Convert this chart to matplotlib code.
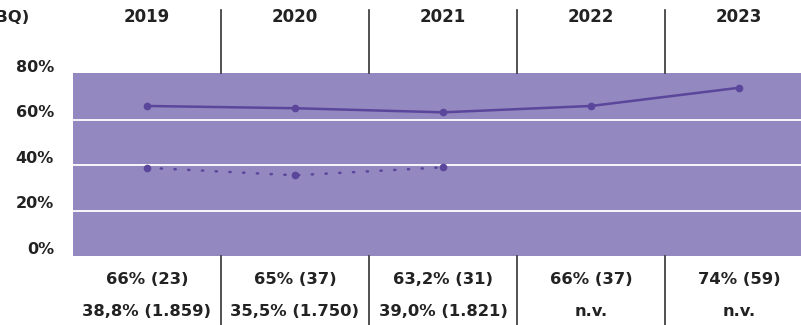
import matplotlib.pyplot as plt
import numpy as np

plt.rcParams['font.family'] = ['DejaVu Sans']

years = ['2019', '2020', '2021', '2022', '2023']
solid_vals = [66, 65, 63.2, 66, 74]
dotted_vals = [38.8, 35.5, 39.0]
row1 = ['66% (23)', '65% (37)', '63,2% (31)', '66% (37)', '74% (59)']
row2 = ['38,8% (1.859)', '35,5% (1.750)', '39,0% (1.821)', 'n.v.', 'n.v.']
yticks = [0, 20, 40, 60, 80]

W, H = 801, 325
fig = plt.figure(figsize=(W / 100, H / 100), dpi=100)

# plot area in pixel coords (right side runs off the canvas)
left, right, top, bottom = 73, 813, 73, 256
ax = fig.add_axes([left / W, 1 - bottom / H, (right - left) / W, (bottom - top) / H])
ax.set_facecolor('#9388bf')
ax.set_xlim(-0.5, 4.5)
ax.set_ylim(0, 80.5)

for v in [20, 40, 60]:
    ax.axhline(v, color='white', lw=1.3, zorder=1)

line_c = '#5a469b'
x = np.arange(len(years))
ax.plot(x, solid_vals, color=line_c, lw=1.8, marker='o', ms=4.5, zorder=3)
ax.plot(x[:len(dotted_vals)], dotted_vals, color=line_c, lw=1.8, ls=(0, (0.5, 5)),
        dash_capstyle='round', zorder=3)
ax.plot(x[:len(dotted_vals)], dotted_vals, color=line_c, lw=0, marker='o', ms=4.5, zorder=4)

for s in ax.spines.values():
    s.set_visible(False)
ax.set_xticks([])
ax.set_yticks([])

txt_c = '#222222'

def ypx(p):
    return 1 - p / H

# y tick labels, right-aligned left of the plot, a bit above their grid lines
for v in yticks:
    py = ax.transData.transform((0, v))[1]
    fig.text(54 / W, (py + 7) / H, f'{v}%', ha='right', va='center', fontsize=11.5,
             fontweight='semibold', color=txt_c)

col_w = (right - left) / 5
for i, yr in enumerate(years):
    cx = (left + col_w * (i + 0.5)) / W
    fig.text(cx, ypx(17), yr, ha='center', va='center', fontsize=12,
             fontweight='semibold', color=txt_c)
    fig.text(cx, ypx(280), row1[i], ha='center', va='center', fontsize=11.8,
             fontweight='semibold', color=txt_c)
    fig.text(cx, ypx(311), row2[i], ha='center', va='center', fontsize=11.8,
             fontweight='semibold', color=txt_c)

for i in range(1, 5):
    xs = (left + col_w * i) / W
    fig.add_artist(plt.Line2D([xs, xs], [ypx(10), ypx(73)], color='#333333', lw=1.2))
    fig.add_artist(plt.Line2D([xs, xs], [ypx(256), ypx(325)], color='#333333', lw=1.2))

# header title, partly outside the canvas as in the original
fig.text(30 / W, ypx(17), '(NBQ)', ha='right', va='center', fontsize=11.8,
         fontweight='semibold', color=txt_c)

fig.savefig('out.png', dpi=100)
